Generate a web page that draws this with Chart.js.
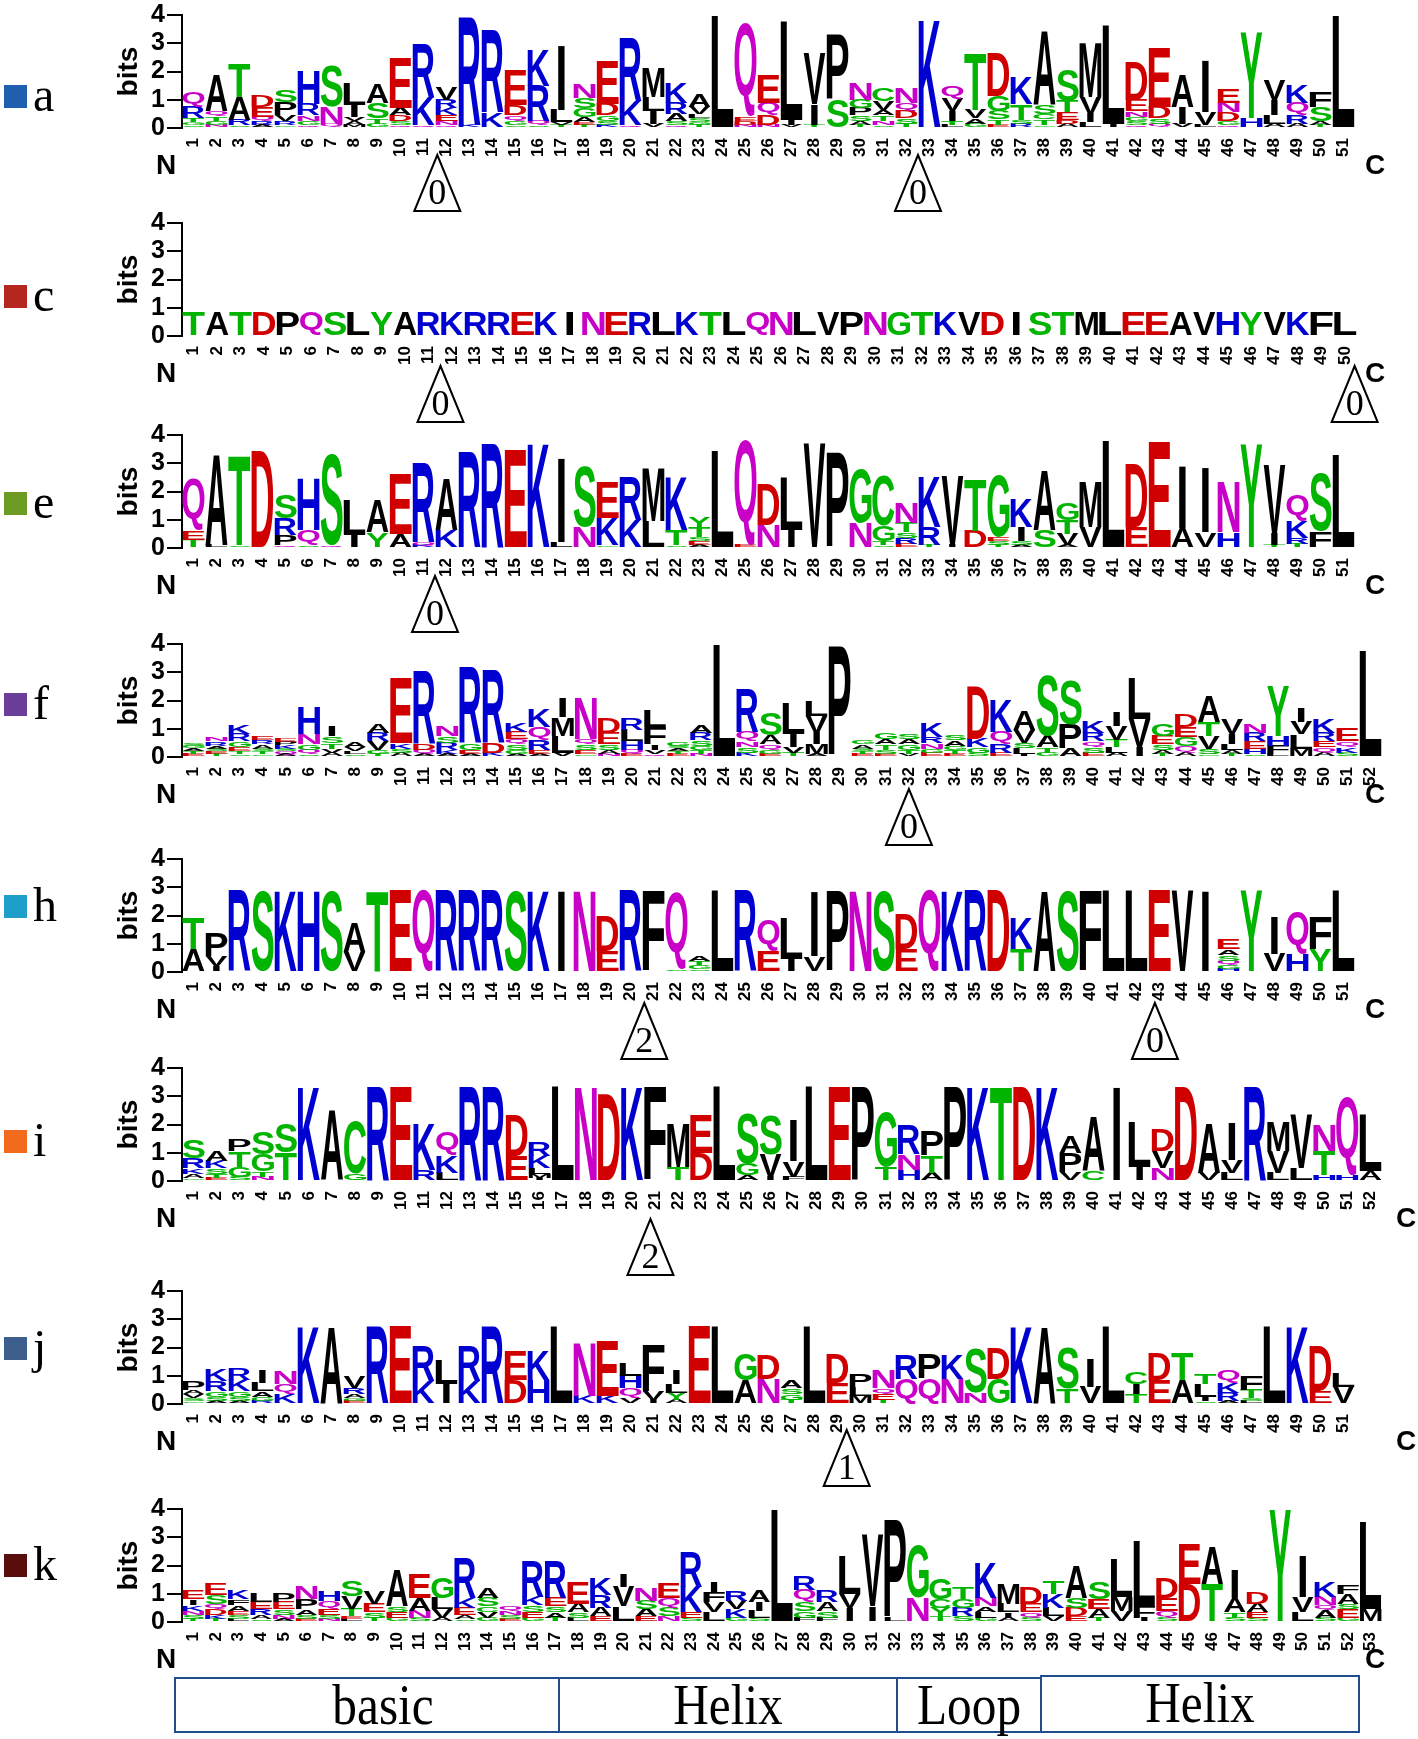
<!DOCTYPE html>
<html>
<head>
<meta charset="utf-8">
<script src="https://cdn.jsdelivr.net/npm/chart.js@4.4.0/dist/chart.umd.min.js"></script>
<style>
  body { margin:0; width:1418px; height:1739px; background:#fff; position:relative; overflow:hidden; }
  canvas { position:absolute; left:0; }
  .sq { position:absolute; left:4px; width:23px; height:23px; }
  .tag { position:absolute; left:33px; font:48px/48px "Liberation Serif", "Times New Roman", serif; color:#000; }
  .seg { position:absolute; top:1677px; height:56px; box-sizing:border-box; border:2px solid #1f4e8a; overflow:visible; }
  .seg span { position:absolute; left:0; right:0; top:-6px; text-align:center; font:58px/64px "Liberation Serif", "Times New Roman", serif; color:#000; transform:scaleX(0.85); }
</style>
</head>
<body>
<script>
// Columns are written top letter first: letter followed by its height in bits
const logoA = ["Q.5R.4T.15G.1S.1","A1.3Q.2T.15G.15N.1","T1.2A.8R.2S.1","D.4E.35Q.15R.15A.1","S.4P.45V.2R.15G.1",
  "H1.2R.4N.2G.15Q.1","S1.45N.6Q.15","L.75I.4V.15A.15M.1","A.7S.55T.2G.15","E1.75A.25D.2S.15Q.1",
  "R1.9K1.0Q.1","V.45R.3K.25E.2N.15Q.1","R3.8K.1","R2.9K.55","E1.2D.35Q.2G.15S.1",
  "K1.3R1.25Q.15S.1","I2.3L.45V.1T.1","N.5S.35G.3A.2E.1T.1","E1.55D.4G.2S.15K.1","R2.2K.85Q.1",
  "M1.05L.5I.45V.15","K.75R.4A.25S.15Q.1","A.45V.25L.15S.15G.1T.1","L4.0","Q3.3E.15D.15N.1",
  "E1.0Q.45D.35N.1","L3.5I.2V.1","V1.8I.75T.1","P2.3S1.0","N.6G.3P.25S.2A.15T.1",
  "C.45V.3A.2T.2N.15S.1","N.55Q.3D.25S.2T.15","K3.85","Q.45V.45I.35T.15L.1","T2.0V.3A.2G.15",
  "D1.55G.55S.3T.2E.1","K.95T.55S.15R.15","A2.6S.3C.2T.2G.1","S1.1T.4E.25D.15A.15","M1.95V.6I.3L.2",
  "L3.5I.15","D1.35E.4N.2G.15S.15Q.1","E2.1D.4S.2Q.15","A1.15I.6V.15","I1.85V.45L.1",
  "E.5N.35D.3G.15Q.1","Y3.05H.35","V.7I.55L.3A.15","K.65Q.45R.3A.15","F.55S.5A.15T.1","L4.0"];
const logoC = ["T.85","A.85","T.85","D.85","P.85","Q.85","S.85","L.85","Y.85","A.85",
  "R.85","K.85","R.85","R.85","E.85","K.85","I.85","N.85","E.85","R.85",
  "L.85","K.85","T.85","L.85","Q.85","N.85","L.85","V.85","P.85","N.85",
  "G.85","T.85","K.85","V.85","D.85","I.85","S.85","T.85","M.85","L.85",
  "E.85","E.85","A.85","V.85","H.85","Y.85","V.85","K.85","F.85","L.85"];
const logoE = ["Q1.85E.3T.3","A3.2L.1","T3.15S.1","D3.45","S.85R.6P.35Q.1",
  "H1.85Q.55S.1","S3.2Q.1","L1.2I.45","A1.15Y.55","E2.15A.5",
  "R2.8Q.1K.1","A1.85K.65","R3.4","R3.7","E3.5",
  "K3.7","I3.0L.2","S2.15N.75","E1.25K.95G.1","R1.55K1.0",
  "M1.9L.95","K1.9T.55S.1","Y.35T.35S.15E.15A.1","L3.45","Q3.7E.1",
  "D1.45N.8","L1.85I.65","V3.7","P3.4","G1.9N.9",
  "C1.75G.55T.15S.1","N.75T.35S.2R.2E.15","K1.8R.65T.1","V2.45I.1","T1.85D.6",
  "G2.2E.15S.15T.1","K1.0I.5S.15A.1","A2.1S.65","G.6T.5V.4A.1","M1.6V.75",
  "L3.8","D2.2E.75","E3.75","I2.2A.7","I2.3V.55",
  "N1.8H.55","Y3.65","V2.45I.4T.1","Q.95K.6R.2T.15","S2.05F.6","L3.3"];
const logoF = ["S.1G.1A.1T.1E.1","N.15R.15A.1S.1E.1T.1","K.3R.25G.2E.15T.1S.1","E.15R.15A.15S.1T.1G.1","E.12P.12K.12S.1Q.1A.1",
  "H.95N.35G.2Q.15S.1","I.35S.25T.2V.15A.15","A.2V.15L.1S.1","A.3R.3V.3G.15T.1","E2.3K.2S.15A.15",
  "R2.6D.2Q.15A.1","N.35S.25R.25K.15A.1","R2.65G.25E.15A.1","R2.6D.35K.15","K.3E.25Q.2S.2G.15A.1",
  "K.65Q.45R.35E.15A.1","I.7M.65L.6V.15","N1.45Q.2S.2E.15G.1","D.55E.4S.2A.15N.1","R.4L.4H.3Q.15E.1",
  "L.6F.6I.2V.15Q.1","G.15S.1A.1T.1E.1","A.25R.25S.2G.15T.15N.1","L4.0","R1.55Q.35N.2S.2K.15",
  "S.8A.3Q.2G.15E.1","L1.1I.45V.2T.15","L.55V.6I.4M.35A.1","P3.9","G.15A.15S.1T.1E.1",
  "G.25A.2T.2S.15E.1","S.2A.2G.2T.15V.1","K.5R.2N.2G.15E.15","S.2A.2G.15T.15E.1","D1.85K.3G.2S.15",
  "K1.15Q.45R.3E.15","A.7V.45S.2L.2I.1","S2.15A.4T.2G.15","S1.6P.85A.3","K.4R.3Q.2S.2E.15",
  "I.5V.5T.25L.2A.15","L1.45V1.0I.35","G.4E.3S.2A.15T.1","D.45E.35G.3Q.25A.15","A.9T.5V.45S.2G.1",
  "V.55I.35L.2A.15T.1","N.3R.3E.25H.2S.1","Y1.75H.35F.3L.1","I.5V.45L.5M.3","K.5R.3E.2Q.2A.15",
  "E.45Q.2K.2S.15","L3.75"];
const logoH = ["T1.1A.8","P.8V.35I.2","R2.9","S2.9","K2.9",
  "H2.9","S2.9","A1.05V.7","T2.9","E2.9",
  "Q2.9","R2.9","R2.9","R2.9","S2.9",
  "K2.9","I2.9","N2.9","D1.2E.75","R2.9",
  "F2.9","Q2.7S.1","A.2T.15G.15S.1","L2.9","R2.9",
  "Q1.1E.75","L1.45I.45","I2.3V.55","P2.9","N2.9",
  "S2.9","D1.2E.8","Q2.9","K2.9","R2.9",
  "D2.9","K1.1T.8","A2.9","S2.9","F2.9",
  "L2.9","L2.9","E2.9","V2.9","I2.9",
  "E.35A.2S.2Q.15G.15H.1","Y2.9","I1.35V.65","Q1.5H.65","F1.15Y.8","L2.9"];
const logoI = ["S.65R.35K.2A.15G.1","A.35K.25S.2T.15E.1","P.4T.55G.35S.15","S.8G.6T.2N.15","S1.0T1.0",
  "K3.35","A2.5","C1.85G.25","R3.35","E3.35",
  "K1.65R.4","Q.85K.6L.3","R3.35","R3.35","D1.45E.9",
  "R.5K.45L.2M.15I.1","L3.35","N3.35","D3.05","K3.35",
  "F3.35","M1.55T.5","E1.35D1.0","L3.35","S1.75G.4A.2",
  "S1.4V.8I.15","I1.45V.55F.15","L3.35","E3.35","P3.35",
  "G1.95T.5","R1.05N.55H.4","P.85T.6A.3","P3.35","K3.35",
  "T3.35","D3.35","K3.35","A.6P.7V.3","A1.95C.35",
  "I3.35","L1.6I.5","D.75V.6N.45","D3.35","A1.75V.3",
  "I1.35V.45L.3","R3.35","M1.05V.75L.3","V1.9L.45","N.9T.85H.2",
  "Q2.75H.2","L2.0A.35"];
const logoJ = ["P.3A.15V.15S.1G.1","K.4R.35G.2S.15A.1","R.4K.4G.2S.15A.1","I.45L.3A.2G.15R.1","N.45Q.35K.35",
  "K2.75","A2.75","V.4R.2A.15G.1E.1","R2.75","E2.75",
  "R1.2K.8","L.85I.7","R1.2K.8","R2.75","E1.05D.85",
  "K1.05H.85","L2.75","N1.9K.3","E1.95K.3","L.45H.45Q.35V.2",
  "F1.65V.3I.15","I.5L.3Y.25A.15","E2.75","L2.75","G.95A.85",
  "D.85N.9","A.25S.2G.2T.15","L2.75","D1.05E.75","P.45L.3M.3",
  "N.65Q.2E.2T.15","R.85Q.9","P.85Q.9","K.85N.9","S1.6N.4",
  "D1.1G.9","K2.75","A2.75","S1.45T.55","I1.0V.6",
  "L2.75","C.4I.35T.35","D.95E.85","T.95A.85","T.35L.45I.15S.1",
  "Q.45K.35R.3A.1","F.5T.3S.1L.1","L2.75","K2.75","D1.6E.45","L.5V.6"];
const logoK = ["E.3I.2K.2N.15S.15T.1","E.4S.3Q.2D.2K.15T.1","K.3F.2A.2E.15S.15L.1","L.3E.25R.2A.15S.1","P.3E.25S.2N.15A.1",
  "N.45P.35A.2S.15E.1","H.35Q.3E.2S.15N.1","S.55V.45T.25E.1L.1","V.45E.3S.2T.15","A1.3S.2E.2G.15",
  "E.85A.45N.25S.15","G.75L.4V.3A.15","R1.4K.35E.25A.15S.1","A.35S.3C.2V.2G.15","Q.15N.15S.15E.1",
  "R1.25K.3S.25E.2G.15","R1.3E.3S.2A.2T.15","E.75A.3S.2L.15","K.6R.45A.3E.2","I.45V.7L.55",
  "N.45S.3A.25E.2","E.55Q.35S.3N.2","R1.2K.9E.2S.15","I.35F.35V.35L.35","R.35V.3K.3G.15",
  "A.4I.3L.25S.15","L4.0","R.5Q.45S.3G.25F.15","R.4A.3S.25F.15","L1.35V.5I.5",
  "V2.55I.55","P3.45L.15","G1.85N.85","G.75C.3Y.3T.2","T.4G.3R.3S.2",
  "K1.25N.3A.2L.2G.15","M.75L.3I.2A.15","D.6E.3Q.2S.15","T.45K.5L.3V.2","A1.15S.35D.3E.2",
  "S.6E.35A.3T.15","L1.35M.5V.4","L2.3F.4I.15","D.7E.45Q.25S.15","E1.4D1.35",
  "A1.35T1.35","I1.0A.5T.2S.15","D.4A.3E.2S.15","Y4.0","I1.45V.55L.35",
  "K.55N.3Q.2A.25S.15","F.3A.35S.2E.3G.15","L3.1M.45"];

// intron markers: [position between residues, phase]
const intronsA = [[11.6,'0'],[32.5,'0']];
const intronsC = [[11.5,'0'],[50.4,'0']];
const intronsE = [[11.5,'0']];
const intronsF = [[32,'0']];
const intronsH = [[20.6,'2'],[42.8,'0']];
const intronsI = [[20.8,'2']];
const intronsJ = [[29.4,'1']];
const intronsK = [];

const bitTicks = [0, 1, 2, 3, 4];
const domainNames = ['basic', 'Helix', 'Loop', 'Helix'];

const panels = [
  {name:'a', cols:logoA, introns:intronsA, colour:'#1f5faf', base:128,  right:1355, triTop:27, cX:1375, tagY:97},
  {name:'c', cols:logoC, introns:intronsC, colour:'#b5261e', base:336,  right:1357, triTop:30, cX:1375, tagY:297},
  {name:'e', cols:logoE, introns:intronsE, colour:'#6e9c22', base:548,  right:1355, triTop:28, cX:1375, tagY:504},
  {name:'f', cols:logoF, introns:intronsF, colour:'#6b3f99', base:757,  right:1382, triTop:32, cX:1375, tagY:705},
  {name:'h', cols:logoH, introns:intronsH, colour:'#1e9ecb', base:972,  right:1355, triTop:31, cX:1375, tagY:907},
  {name:'i', cols:logoI, introns:intronsI, colour:'#f26b1d', base:1181, right:1382, triTop:38, cX:1406, tagY:1142},
  {name:'j', cols:logoJ, introns:intronsJ, colour:'#3c5f8d', base:1404, right:1355, triTop:26, cX:1406, tagY:1349},
  {name:'k', cols:logoK, introns:intronsK, colour:'#5a0d0d', base:1622, right:1382, triTop:0,  cX:1375, tagY:1566}
];

const SANS = '"Liberation Sans", Arial, Helvetica, sans-serif';
const SERIF = '"Liberation Serif", "Times New Roman", serif';
const colourGroups = [['GSTYC','#00b400'],['KRH','#0000d0'],['DE','#d00000'],['NQ','#c800c8']];
const letterColour = ch => (colourGroups.find(g => g[0].includes(ch)) || [0,'#000'])[1];

const parseColumn = s => s.match(/[A-Z][\d.]+/g).map(t => [t[0], parseFloat(t.slice(1))]);

// glyph ink box at 100px, used to stretch letters into the bars
const glyphs = {};
const measure = document.createElement('canvas').getContext('2d');
function glyph(ch) {
  if (!glyphs[ch]) {
    measure.font = 'bold 100px ' + SANS;
    const m = measure.measureText(ch);
    glyphs[ch] = {l:m.actualBoundingBoxLeft, r:m.actualBoundingBoxRight, a:m.actualBoundingBoxAscent, d:m.actualBoundingBoxDescent};
  }
  return glyphs[ch];
}

const logoPlugin = {
  id: 'logo',
  afterDatasetsDraw(chart) {
    const ctx = chart.ctx;
    chart.data.datasets.forEach((ds, i) => {
      chart.getDatasetMeta(i).data.forEach((bar, j) => {
        const ch = ds.letters[j];
        if (!ch || !ds.data[j]) return;
        const p = bar.getProps(['x','y','base','width'], true);
        const h = p.base - p.y;
        const g = glyph(ch), gw = g.l + g.r, gh = g.a + g.d;
        ctx.save();
        ctx.translate(p.x, p.y);
        ctx.scale(p.width / Math.max(gw, 50), h / gh);
        ctx.font = 'bold 100px ' + SANS;
        ctx.textAlign = 'left';
        ctx.textBaseline = 'alphabetic';
        ctx.fillStyle = letterColour(ch);
        ctx.fillText(ch, -gw / 2 + g.l, g.a);
        ctx.restore();
      });
    });
  }
};

const marksPlugin = {
  id: 'marks',
  afterDraw(chart, args, opts) {
    const ctx = chart.ctx, xs = chart.scales.x, base = chart.chartArea.bottom;
    const x0 = xs.getPixelForValue(0), step = xs.getPixelForValue(1) - x0;
    ctx.save();
    ctx.fillStyle = '#000';
    ctx.font = 'bold 28px ' + SANS;
    ctx.textAlign = 'center';
    ctx.textBaseline = 'middle';
    ctx.fillText('N', 166, base + 38);
    ctx.fillText('C', opts.cX, base + 38);
    opts.introns.forEach(([pos, phase]) => {
      const x = x0 + (pos - 1) * step, top = base + opts.triTop;
      ctx.beginPath();
      ctx.moveTo(x, top);
      ctx.lineTo(x + 23, top + 56);
      ctx.lineTo(x - 23, top + 56);
      ctx.closePath();
      ctx.fillStyle = '#fff';
      ctx.fill();
      ctx.lineWidth = 2;
      ctx.strokeStyle = '#000';
      ctx.stroke();
      ctx.fillStyle = '#000';
      ctx.font = '36px ' + SERIF;
      ctx.fillText(phase, x, top + 40);
    });
    ctx.restore();
  }
};

const PAD_TOP = 16, PLOT_H = 113, XAXIS_H = 30, PAD_BOTTOM = 70;

panels.forEach(pn => {
  const cols = pn.cols.map(parseColumn);
  const depth = Math.max(...cols.map(c => c.length));
  const datasets = [];
  for (let k = 0; k < depth; k++) {
    const pick = c => c.length > k ? c[c.length - 1 - k] : null;
    datasets.push({
      data: cols.map(c => pick(c) ? pick(c)[1] : 0),
      letters: cols.map(c => pick(c) ? pick(c)[0] : ''),
      backgroundColor: 'rgba(0,0,0,0)',
      borderWidth: 0,
      barPercentage: 1,
      categoryPercentage: 0.96
    });
  }

  const cv = document.createElement('canvas');
  const H = PAD_TOP + PLOT_H + XAXIS_H + PAD_BOTTOM;
  cv.width = 1418; cv.height = H;
  cv.style.top = (pn.base - PLOT_H - PAD_TOP) + 'px';
  document.body.appendChild(cv);

  new Chart(cv, {
    type: 'bar',
    data: { labels: cols.map((c, i) => String(i + 1)), datasets },
    options: {
      responsive: false,
      animation: false,
      devicePixelRatio: 1,
      events: [],
      layout: { padding: { left: 112, right: 1418 - pn.right, top: PAD_TOP, bottom: PAD_BOTTOM } },
      plugins: {
        legend: { display: false },
        tooltip: { enabled: false },
        marks: { introns: pn.introns, triTop: pn.triTop, cX: pn.cX }
      },
      scales: {
        x: {
          stacked: true,
          offset: true,
          grid: { display: false },
          border: { display: false },
          ticks: { autoSkip: false, minRotation: 90, maxRotation: 90, padding: 2, color: '#000',
                   font: { family: SANS, size: 17, weight: 'bold', lineHeight: 1 } },
          afterFit: s => { s.height = XAXIS_H; }
        },
        y: {
          stacked: true,
          min: bitTicks[0],
          max: bitTicks[bitTicks.length - 1],
          afterBuildTicks: s => { s.ticks = bitTicks.map(v => ({ value: v })); },
          ticks: { autoSkip: false, padding: 2, color: '#000', font: { family: SANS, size: 25, weight: 'bold', lineHeight: 1 } },
          grid: { drawOnChartArea: false, drawTicks: true, tickLength: 15, color: '#000', lineWidth: 2 },
          border: { display: true, color: '#000', width: 2 },
          title: { display: true, text: 'bits', color: '#000', padding: { top: 0, bottom: 0 },
                   font: { family: SANS, size: 28, weight: 'bold' } },
          afterFit: s => { s.width = 70; }
        }
      }
    },
    plugins: [logoPlugin, marksPlugin]
  });

  const sq = document.createElement('div');
  sq.className = 'sq';
  sq.style.top = (pn.tagY - 12) + 'px';
  sq.style.background = pn.colour;
  document.body.appendChild(sq);
  const tag = document.createElement('div');
  tag.className = 'tag';
  tag.style.top = (pn.tagY - 26) + 'px';
  tag.textContent = pn.name;
  document.body.appendChild(tag);
});

// domain bar under the logos
const domainEdges = [174, 558, 896, 1040, 1358];
domainNames.forEach((name, i) => {
  const d = document.createElement('div');
  d.className = 'seg';
  d.style.left = domainEdges[i] + 'px';
  d.style.width = (domainEdges[i + 1] - domainEdges[i] + 2) + 'px';
  if (i === 3) { d.style.top = '1675px'; d.style.height = '58px'; }
  const s = document.createElement('span');
  s.textContent = name;
  if (i === 0) s.style.left = '32px';
  d.appendChild(s);
  document.body.appendChild(d);
});
</script>
</body>
</html>
